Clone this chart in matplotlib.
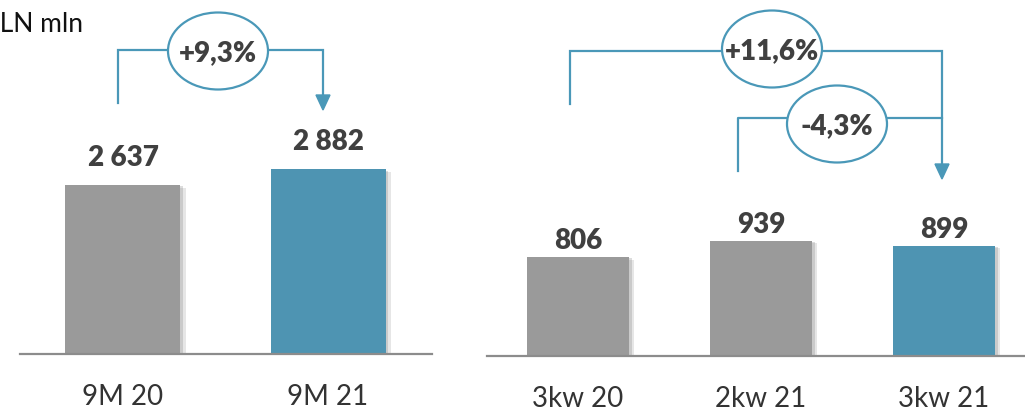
import matplotlib
matplotlib.use("Agg")
import matplotlib.pyplot as plt
from matplotlib.patches import Ellipse, Polygon
import matplotlib.patheffects as pe

plt.rcParams['font.family'] = ['Lato', 'DejaVu Sans']

# ---- data ----
left_cats = ["9M 20", "9M 21"]
left_vals = [2637, 2882]
left_labels = ["2 637", "2 882"]
right_cats = ["3kw 20", "2kw 21", "3kw 21"]
right_vals = [806, 939, 899]
right_labels = ["806", "939", "899"]
change_labels = ["+9,3%", "+11,6%", "-4,3%"]
unit_label = "PLN mln"

GRAY = "#9a9a9a"
BLUE = "#4e94b2"
LINE = "#4a98b8"
TXT = "#404040"

W, H = 1025, 410
fig = plt.figure(figsize=(W / 100, H / 100), dpi=100)

def px_axes(x0, x1, y_base, y_top):
    return fig.add_axes([x0 / W, 1 - y_base / H, (x1 - x0) / W, (y_base - y_top) / H])

shadow = [pe.SimplePatchShadow(offset=(4, -2), shadow_rgbFace="#777777", alpha=0.18),
          pe.SimplePatchShadow(offset=(2, -1), shadow_rgbFace="#777777", alpha=0.25),
          pe.Normal()]

def panel(ax, cats, vals, labels, colors, width, xlim, ymax, off):
    xs = list(range(len(cats)))
    bars = ax.bar(xs, vals, width=width, color=colors, zorder=2)
    for b in bars:
        b.set_path_effects(shadow)
    for x, v, lab in zip(xs, vals, labels):
        ax.annotate(lab, (x, v), xytext=(0, off), textcoords="offset points",
                    ha="center", va="center", fontsize=20, fontweight="heavy", color=TXT)
    ax.set_xlim(*xlim)
    ax.set_ylim(0, ymax)
    for s in ["top", "left", "right"]:
        ax.spines[s].set_visible(False)
    ax.spines["bottom"].set_color("#8c8c8c")
    ax.spines["bottom"].set_linewidth(1.6)
    ax.set_yticks([])
    ax.set_xticks(xs)
    ax.set_xticklabels(cats, fontsize=20, color="#333333")
    ax.tick_params(axis="x", length=0, pad=21)
    ax.patch.set_alpha(0)

axL = px_axes(20, 432, 355, 0)
panel(axL, left_cats, left_vals, left_labels, [GRAY, BLUE], 0.561,
      (-0.502, 1.507), 355 / 0.0641, 20)

axR = px_axes(487, 1025, 357, 0)
panel(axR, right_cats, right_vals, right_labels, [GRAY, GRAY, BLUE], 0.557,
      (-0.497, 2.443), 357 / 0.1228, 12)

# ---- overlay for bracket arrows ----
ov = fig.add_axes([0, 0, 1, 1])
ov.set_xlim(0, W)
ov.set_ylim(H, 0)
ov.axis("off")
ov.patch.set_alpha(0)

lw = 1.6
def bracket(xa, xb, ytop, ya, yb_tip):
    ov.plot([xa, xa, xb, xb], [ya, ytop, ytop, yb_tip - 14], color=LINE, lw=lw,
            solid_joinstyle="miter", zorder=3)
    ov.add_patch(Polygon([[xb - 7, yb_tip - 15], [xb + 7, yb_tip - 15], [xb, yb_tip]],
                         closed=True, color=LINE, zorder=3))

def bubble(cx, cy, text):
    ov.add_patch(Ellipse((cx, cy), 100, 77, facecolor="white", edgecolor=LINE,
                         lw=lw, zorder=4))
    ov.text(cx, cy + 1, text, ha="center", va="center", fontsize=20,
            fontweight="heavy", color=TXT, zorder=5)

bracket(118, 323, 51, 104, 111)
bubble(218, 52, change_labels[0])

bracket(570, 942, 52, 105, 180)
ov.plot([738, 738, 942], [172, 119, 119], color=LINE, lw=lw, zorder=3)
bubble(772, 50, change_labels[1])
bubble(837, 125, change_labels[2])

ov.text(83, 32, unit_label, ha="right", va="baseline", fontsize=19, color="#111111")

fig.savefig("out.png", dpi=100)
